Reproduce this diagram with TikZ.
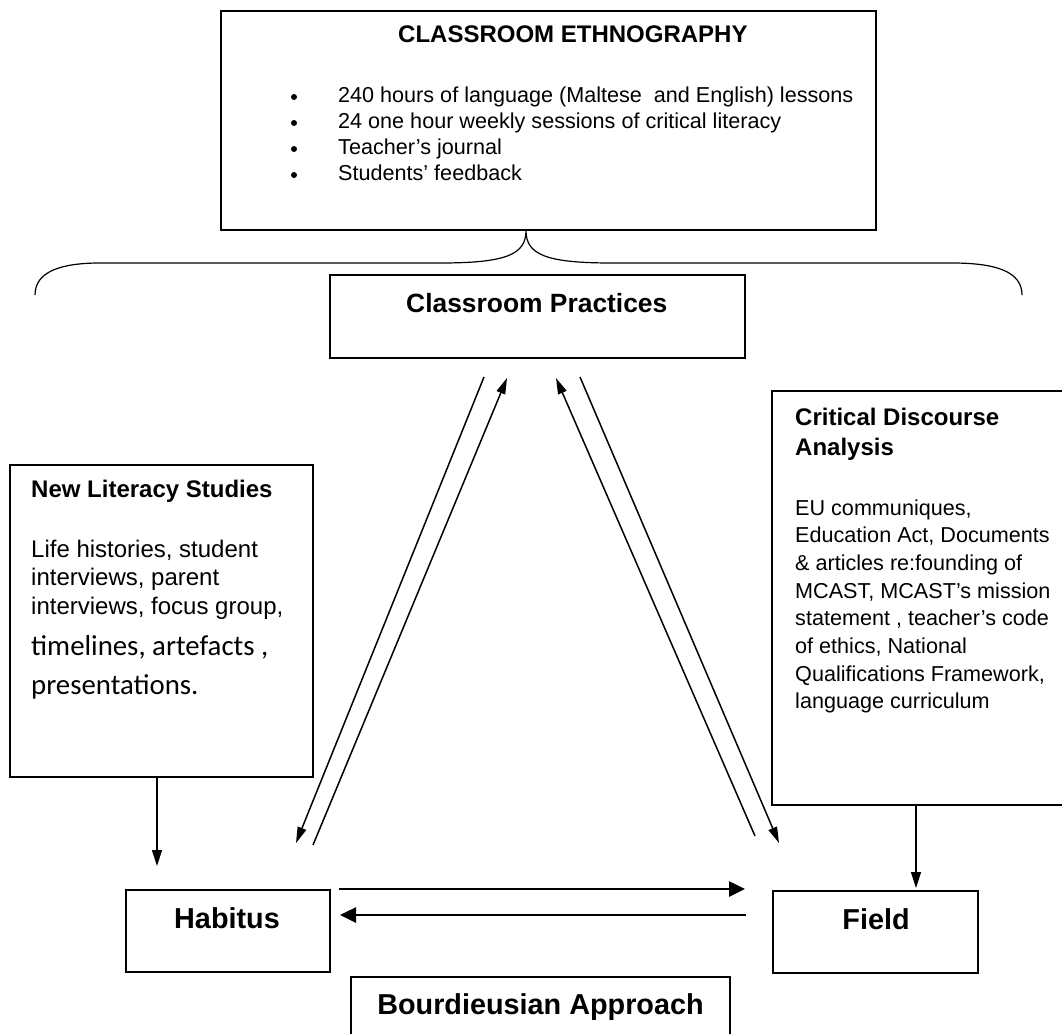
\documentclass[tikz,border=0pt]{standalone}
\usepackage{fontspec}
\setmainfont{Liberation Sans}
\newfontfamily\calibri{Carlito}
\usetikzlibrary{arrows.meta}

\begin{document}
\begin{tikzpicture}[x=1pt,y=-1pt,
        box/.style={draw,line width=1.4pt,inner sep=0pt},
        txt/.style={anchor=base west,inner sep=0pt},
        head/.style={txt,font=\fontsize{24}{30}\selectfont\bfseries},
        link/.style={line width=1.5pt,-{Triangle[length=16pt,width=9pt]}},
        flow/.style={line width=2.6pt,-{Triangle[length=16pt,width=15pt]}},
        feed/.style={line width=1.3pt,-{Triangle[length=16pt,width=10pt]}}]
    \clip (0,0) rectangle (1062,1033);
    \fill[white] (0,0) rectangle (1062,1033);
    \node[box,minimum width=655pt,minimum height=219pt] (ethno) at (548.5,120.5) {};
    \node[box,minimum width=415pt,minimum height=83pt] (practices) at (537.5,316.5) {};
    \node[box,minimum width=303pt,minimum height=312pt] (nls) at (161.5,621) {};
    \node[box,minimum width=300pt,minimum height=414pt] (cda) at (922,598) {};
    \node[box,minimum width=204pt,minimum height=82pt] (habitus) at (228,931) {};
    \node[box,minimum width=205pt,minimum height=82pt] (field) at (875.5,932) {};
    \node[box,minimum width=379pt,minimum height=90pt] (bourdieu) at (540.5,1022) {};
    \node[head] (ethnotitle) at (398,43) {CLASSROOM ETHNOGRAPHY};
    \foreach \t [count=\i] in {{240 hours of language (Maltese~ and English) lessons},
            {24 one hour weekly sessions of critical literacy},
            {Teacher's journal},{Students' feedback}} {
        \fill (294,{71+26*\i}) circle (3pt);
        \node[txt,font=\fontsize{21.6}{26}\selectfont] (item\i) at (338,{76+26*\i}) {\t};
    }
    \node[txt,font=\fontsize{26.4}{32}\selectfont\bfseries] (practicestext) at (406,312) {Classroom Practices};
    \node[head] (nlstitle) at (31,497) {New Literacy Studies};
    \foreach \t [count=\i] in {{Life histories, student},{interviews, parent},
            {interviews, focus group,}} {
        \node[txt,font=\fontsize{24}{28}\selectfont] (nlsline\i) at (31,{528.5+28.5*\i}) {\t};
    }
    \node[txt,font=\calibri\fontsize{28.8}{34}\selectfont] (nlsline4) at (31,655) {timelines, artefacts ,};
    \node[txt,font=\calibri\fontsize{28.8}{34}\selectfont] (nlsline5) at (31,694) {presentations.};
    \node[head] (cdatitle) at (795,425) {Critical Discourse};
    \node[head] (cdatitle2) at (795,455) {Analysis};
    \foreach \t [count=\i] in {{EU communiques,},{Education Act, Documents},
            {\& articles re:founding of},{MCAST, MCAST's mission},
            {statement , teacher's code},{of ethics, National},
            {Qualifications Framework,},{language curriculum}} {
        \node[txt,font=\fontsize{21.6}{26}\selectfont] (cdaline\i) at (795,{487.3+27.7*\i}) {\t};
    }
    \node[txt,anchor=base,font=\fontsize{28.8}{34}\selectfont\bfseries] (habitustext) at (227,928) {Habitus};
    \node[txt,anchor=base,font=\fontsize{28.8}{34}\selectfont\bfseries] (fieldtext) at (876,929) {Field};
    \node[txt,anchor=base,font=\fontsize{28.8}{34}\selectfont\bfseries] (bourdieutext) at (540.5,1014) {Bourdieusian Approach};
    \draw[line width=1.2pt] (35,295) .. controls (35,272) and (60,263) .. (100,263) -- (440,263)
        .. controls (505,263) and (526,255) .. (ethno.south -| 526,0)
        .. controls (526,255) and (547,263) .. (612,263) -- (952,263)
        .. controls (997,263) and (1022,272) .. (1022,295);
    \coordinate (hp1a) at (484,377);
    \coordinate (hp1b) at (296,843);
    \coordinate (hp2a) at (313,845);
    \coordinate (hp2b) at (507,378);
    \coordinate (fp1a) at (755,836);
    \coordinate (fp1b) at (556,378);
    \coordinate (fp2a) at (580,377);
    \coordinate (fp2b) at (779,843);
    \draw[link] (hp1a) -- (hp1b);
    \draw[link] (hp2a) -- (hp2b);
    \draw[link] (fp1a) -- (fp1b);
    \draw[link] (fp2a) -- (fp2b);
    \coordinate (hf1) at (339,889);
    \coordinate (hf2) at (745,889);
    \coordinate (fh1) at (746,915);
    \coordinate (fh2) at (340,915);
    \draw[flow] (hf1) -- (hf2);
    \draw[flow] (fh1) -- (fh2);
    \draw[feed] (nls.south -| 157,0) -- (157,866);
    \draw[feed] (cda.south -| 916,0) -- (916,888);
\end{tikzpicture}
\end{document}
